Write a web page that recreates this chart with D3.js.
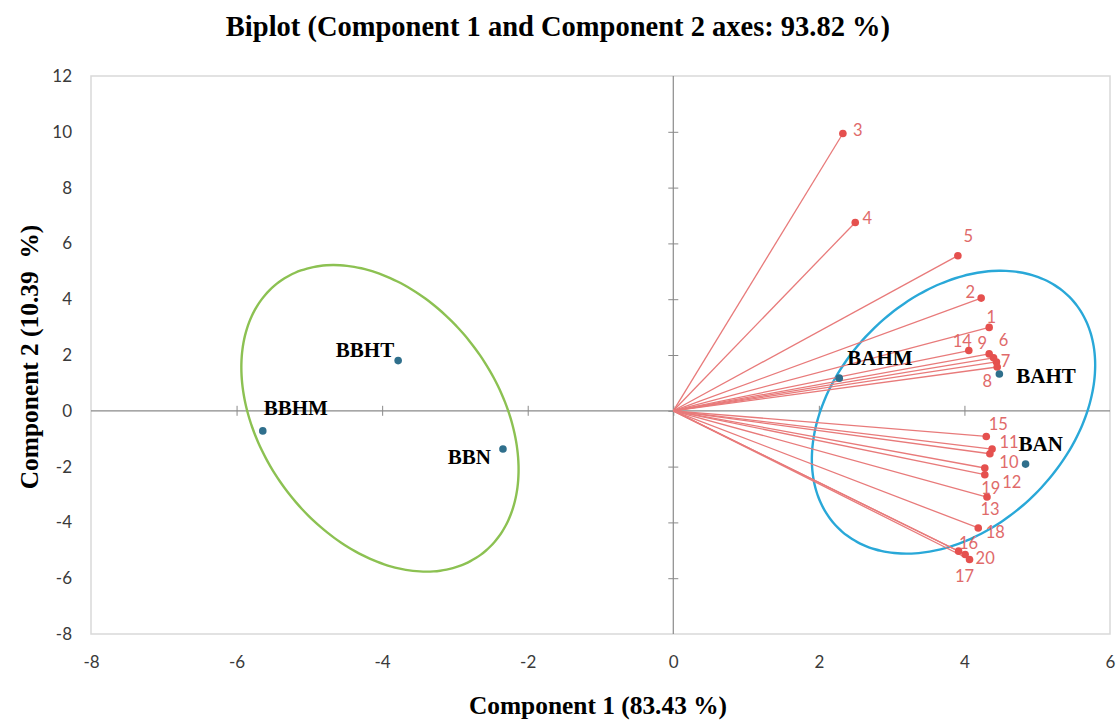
<!DOCTYPE html>
<html>
<head>
<meta charset="utf-8">
<script src="https://cdn.jsdelivr.net/npm/d3@7"></script>
<style>
  html, body { margin: 0; padding: 0; background: #fff; }
  svg text { white-space: pre; }
</style>
</head>
<body>
<svg id="chart" width="1117" height="722"></svg>
<script>
// Variable loadings (red vectors)
const varNames = ["1","2","3","4","5","6","7","8","9","10","11","12","13","14","15","16","17","18","19","20"];
const varX = [4.34, 4.23, 2.33, 2.50, 3.91, 4.40, 4.44, 4.45, 4.34, 4.35, 4.38, 4.28, 4.31, 4.06, 4.30, 3.92, 4.07, 4.19, 4.28, 4.01];
const varY = [2.99, 4.04, 9.94, 6.75, 5.56, 1.90, 1.75, 1.57, 2.04, -1.54, -1.37, -2.05, -3.09, 2.16, -0.92, -5.03, -5.33, -4.20, -2.29, -5.15];

// Observation scores (blue points)
const obsNames = ["BBHT", "BBHM", "BBN", "BAHM", "BAHT", "BAN"];
const obsX = [-3.78, -5.64, -2.34, 2.28, 4.48, 4.84];
const obsY = [1.80, -0.72, -1.37, 1.17, 1.32, -1.91];

// Group ellipses: centre and two conjugate semi-diameters, in data units
const ellNames = ["B", "A"];
const ellCX = [-4.03, 3.85];
const ellCY = [-0.27, -0.05];
const ellU = [[1.387, -4.884], [1.589, 4.139]];
const ellV = [[-1.305, -2.515], [1.124, -2.927]];

// Axis ticks
const xTicks = [-8, -6, -4, -2, 0, 2, 4, 6];
const yTicks = [-8, -6, -4, -2, 0, 2, 4, 6, 8, 10, 12];

const titleText = "Biplot (Component 1 and Component 2 axes: 93.82 %)";
const xTitle = "Component 1 (83.43 %)";
const yTitle = "Component 2 (10.39  %)";

// ---- layout / style ----
const L = 91, R = 1110, T = 76, B = 634;
const svg = d3.select("#chart");
const x = d3.scaleLinear().domain([-8, 6]).range([L, R]);
const y = d3.scaleLinear().domain([-8, 12]).range([B, T]);

const redLine = "#e87a7a", redDot = "#e5504e", redText = "#e06a6a";
const blueDot = "#2f6f8c";
const ellColors = ["#8cc152", "#29a8d8"];
const serif = "'Liberation Serif', 'Times New Roman', serif";
const sans = "Lato, 'Open Sans', sans-serif";

// label placement for the variable numbers (dx, dy, anchor)
const varLabelPos = {
  "1": [2, -4, "middle"], "2": [-11, -0.5, "middle"], "3": [15, 2.5, "middle"], "4": [12, 1.5, "middle"],
  "5": [10.5, -14, "middle"], "6": [10, -12, "middle"], "7": [9, 5, "middle"], "8": [-10, 20, "middle"],
  "9": [-7, -4.5, "middle"], "10": [19, 14.5, "middle"], "11": [17, -1, "middle"], "12": [27, 20.5, "middle"],
  "13": [3, 17.5, "middle"], "14": [-6.5, -3.5, "middle"], "15": [12, -6.5, "middle"], "16": [10, -2.5, "middle"],
  "17": [-5, 22.5, "middle"], "18": [17, 10, "middle"], "19": [6, 19.5, "middle"], "20": [20, 9.5, "middle"]
};
const obsLabelPos = {
  "BBHT": [-4, -4, "end"], "BBHM": [1, -16, "start"], "BBN": [-12, 14.5, "end"],
  "BAHM": [8, -13, "start"], "BAHT": [17, 9, "start"], "BAN": [-7, -13, "start"]
};

// plot border
svg.append("rect")
  .attr("x", L).attr("y", T).attr("width", R - L).attr("height", B - T)
  .attr("fill", "none").attr("stroke", "#d9d9d9").attr("stroke-width", 1.5);

// zero lines with cross tick marks
const gx0 = svg.append("g").attr("transform", `translate(0,${y(0) - 5})`)
  .call(d3.axisBottom(x).tickValues(xTicks.slice(1, -1)).tickSize(10).tickFormat(""));
gx0.select(".domain").remove();
gx0.selectAll("line").attr("stroke", "#8a8a8a");
const gy0 = svg.append("g").attr("transform", `translate(${x(0) + 5},0)`)
  .call(d3.axisLeft(y).tickValues(yTicks.slice(1, -1)).tickSize(10).tickFormat(""));
gy0.select(".domain").remove();
gy0.selectAll("line").attr("stroke", "#8a8a8a");
svg.append("line").attr("x1", L).attr("x2", R).attr("y1", y(0)).attr("y2", y(0))
  .attr("stroke", "#8a8a8a").attr("stroke-width", 1.2);
svg.append("line").attr("x1", x(0)).attr("x2", x(0)).attr("y1", T).attr("y2", B)
  .attr("stroke", "#8a8a8a").attr("stroke-width", 1.2);

// tick labels
const tickFmt = d => String(d);
const gxl = svg.append("g").attr("transform", `translate(0,${B + 19})`)
  .call(d3.axisBottom(x).tickValues(xTicks).tickSize(0).tickFormat(tickFmt));
gxl.select(".domain").remove();
gxl.selectAll("text").attr("font-family", sans).attr("font-size", 17).attr("fill", "#3a3a3a");
const gyl = svg.append("g").attr("transform", `translate(${L - 16},0)`)
  .call(d3.axisLeft(y).tickValues(yTicks).tickSize(0).tickFormat(tickFmt));
gyl.select(".domain").remove();
gyl.selectAll("text").attr("font-family", sans).attr("font-size", 17).attr("fill", "#3a3a3a");

// ellipses
const tSteps = d3.range(0, 360, 3).map(d => d * Math.PI / 180);
ellNames.forEach((n, i) => {
  const pts = tSteps.map(t => [
    x(ellCX[i] + ellU[i][0] * Math.cos(t) + ellV[i][0] * Math.sin(t)),
    y(ellCY[i] + ellU[i][1] * Math.cos(t) + ellV[i][1] * Math.sin(t))
  ]);
  svg.append("path").attr("d", d3.line().curve(d3.curveCardinalClosed)(pts))
    .attr("fill", "none").attr("stroke", ellColors[i]).attr("stroke-width", 2.4);
});

// variable vectors
const vars = varNames.map((n, i) => ({ n, x: varX[i], y: varY[i] }));
svg.append("g").selectAll("line").data(vars).join("line")
  .attr("x1", x(0)).attr("y1", y(0))
  .attr("x2", d => x(d.x)).attr("y2", d => y(d.y))
  .attr("stroke", redLine).attr("stroke-width", 1.3);
svg.append("g").selectAll("circle").data(vars).join("circle")
  .attr("cx", d => x(d.x)).attr("cy", d => y(d.y)).attr("r", 3.8).attr("fill", redDot);
svg.append("g").selectAll("text").data(vars).join("text")
  .attr("x", d => x(d.x) + varLabelPos[d.n][0])
  .attr("y", d => y(d.y) + varLabelPos[d.n][1])
  .attr("text-anchor", d => varLabelPos[d.n][2])
  .attr("font-family", sans).attr("font-size", 16.5)
  .attr("fill", redText).text(d => d.n);

// observations
const obs = obsNames.map((n, i) => ({ n, x: obsX[i], y: obsY[i] }));
svg.append("g").selectAll("circle").data(obs).join("circle")
  .attr("cx", d => x(d.x)).attr("cy", d => y(d.y)).attr("r", 3.8).attr("fill", blueDot);
svg.append("g").selectAll("text").data(obs).join("text")
  .attr("x", d => x(d.x) + obsLabelPos[d.n][0])
  .attr("y", d => y(d.y) + obsLabelPos[d.n][1])
  .attr("text-anchor", d => obsLabelPos[d.n][2])
  .attr("font-family", serif).attr("font-weight", "bold")
  .attr("font-size", 21).attr("fill", "#000").text(d => d.n);

// titles
svg.append("text").attr("x", 558).attr("y", 36).attr("text-anchor", "middle")
  .attr("font-family", serif).attr("font-weight", "bold")
  .attr("font-size", 28.5).attr("fill", "#000").text(titleText);
svg.append("text").attr("x", 598).attr("y", 714).attr("text-anchor", "middle")
  .attr("font-family", serif).attr("font-weight", "bold")
  .attr("font-size", 25.4).attr("fill", "#000").text(xTitle);
svg.append("text").attr("transform", `translate(38,357) rotate(-90)`).attr("text-anchor", "middle")
  .attr("font-family", serif).attr("font-weight", "bold")
  .attr("font-size", 25.4).attr("fill", "#000").text(yTitle);
</script>
</body>
</html>
